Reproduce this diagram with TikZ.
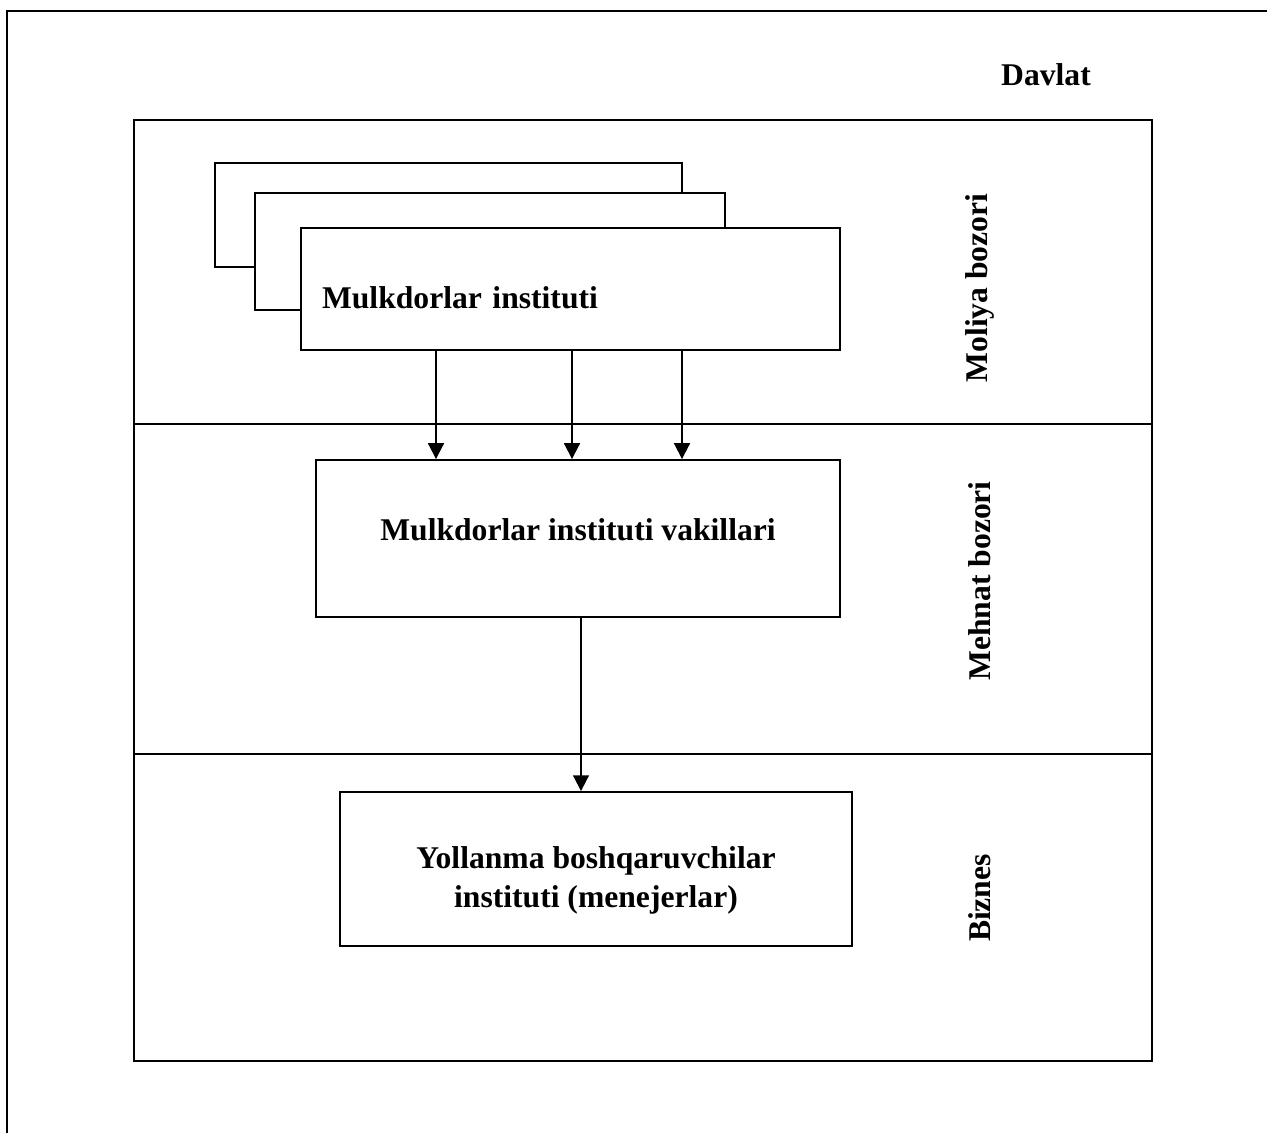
\documentclass[tikz,border=0pt]{standalone}
\usepackage{fontspec}
\setmainfont{Liberation Serif}
\usetikzlibrary{arrows.meta, calc, positioning}
\tikzstyle{txt} = [font=\bfseries\fontsize{18}{22}\selectfont]
\tikzstyle{block} = [txt, rectangle, line width=1.1pt, draw=black, fill=white, text centered, align=center]
\tikzstyle{lane} = [line width=1.1pt]
\tikzstyle{market} = [txt, rotate=90, anchor=center]
\tikzstyle{arrow} = [line width=1.1pt, -{Triangle[width=9pt,length=9pt]}]

\begin{document}
\begin{tikzpicture}[x=0.02cm, y=-0.02cm]
	\useasboundingbox (0,0) rectangle (1267,1133);
	% frame and lanes
	\draw [lane] (1267,11) -- (7,11) -- (7,1133);
	\draw [lane] (134,120) rectangle (1152,1061);
	\draw [lane] (134,424) -- (1152,424);
	\draw [lane] (134,754) -- (1152,754);
	\node (Davlat) [txt] at (1046,75) {Davlat};
	\node (Moliya) [market] at (980,288) {Moliya bozori};
	\node (Mehnat) [market] at (980,581) {Mehnat bozori};
	\node (Biznes) [market] at (980,898) {Biznes};
	% owners, stacked
	\node (Owners3) [block, minimum width=9.34cm, minimum height=2.08cm] at (448.5,215) {};
	\node (Owners2) [block, minimum width=9.4cm, minimum height=2.34cm] at (490,251.5) {};
	\node (Owners) [block, text width=9.94cm, inner xsep=0.42cm, minimum height=2.44cm, align=left] at (570.5,289) {\raisebox{-0.18cm}[\height][\depth]{Mulkdorlar instituti}};
	\node (Vakil) [block, minimum width=10.48cm, minimum height=3.14cm] at (578,538.5) {\raisebox{0.18cm}[\height][\depth]{Mulkdorlar instituti vakillari}};
	\node (Menejer) [block, minimum width=10.24cm, minimum height=3.08cm] at (596,869) {\raisebox{-0.22cm}[\height][\depth]{\begin{tabular}{@{}c@{}}Yollanma boshqaruvchilar\\instituti (menejerlar)\end{tabular}}};
	\foreach \x in {436,572,682}
		\draw [arrow] (\x,0 |- Owners.south) -- (\x,0 |- Vakil.north);
	\draw [arrow] (581,0 |- Vakil.south) -- (581,0 |- Menejer.north);
\end{tikzpicture}
\end{document}
